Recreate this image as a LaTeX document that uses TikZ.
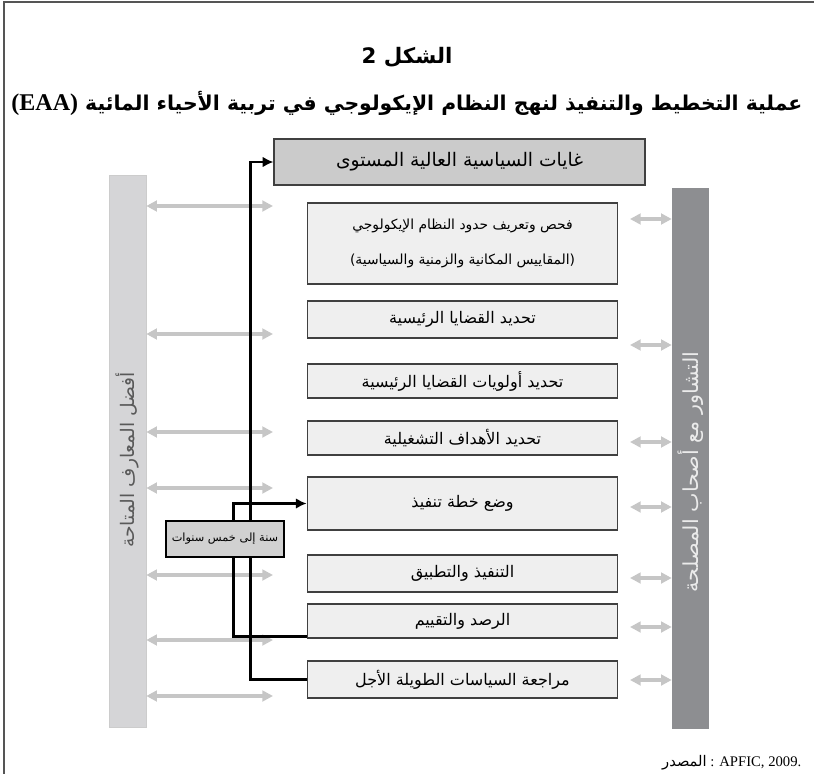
\documentclass[tikz,border=0pt]{standalone}
\usepackage{fontspec}
\setmainfont{Liberation Serif}
\newfontfamily\arabicfont[Script=Arabic]{DejaVu Sans}
\TeXXeTstate=1
\usetikzlibrary{arrows.meta}

\definecolor{stagefill}{HTML}{EFEFEF}
\definecolor{goalfill}{HTML}{CBCBCB}
\definecolor{knowfill}{HTML}{D5D5D7}
\definecolor{consultfill}{HTML}{8D8E91}
\definecolor{arrowgray}{HTML}{C6C6C6}
\definecolor{framegray}{HTML}{555555}

\newcommand{\rtltext}[1]{\beginR #1\endR}

\tikzset{
  stage/.style={draw=black!75, fill=stagefill, line width=0.9pt, inner sep=0pt,
    minimum width=233pt, font=\arabicfont\fontsize{12}{14}\selectfont},
  sidebar/.style={inner sep=0pt, minimum width=27.75pt},
  knowarrow/.style={arrowgray, line width=3pt,
    {Triangle[length=8pt,width=8pt]}-{Triangle[length=8pt,width=8pt]}},
  loopline/.style={black, line width=2.2pt, -{Latex[length=8pt,width=8pt]}},
}

\begin{document}
\begin{tikzpicture}[x=0.75pt, y=-0.75pt]
  \useasboundingbox (0,0) rectangle (814,774);
  \draw[framegray, line width=1.5pt] (3.5,774) -- (3.5,2.5) -- (814,2.5);

  % title
  \node (fig) at (407,57) {\arabicfont\bfseries\fontsize{16}{19}\selectfont \rtltext{الشكل 2}};
  \node (title) at (407,103) {\arabicfont\bfseries\fontsize{15.3}{18}\selectfont
    \rtltext{عملية التخطيط والتنفيذ لنهج النظام الإيكولوجي في تربية الأحياء المائية \beginL{\rmfamily\fontsize{18}{20}\selectfont(EAA)}\endL}};

  % side bars
  \node[sidebar, fill=knowfill, draw=black!20, minimum height=414pt] (know) at (127.5,451) {};
  \node[sidebar, fill=consultfill, minimum height=405.75pt] (consult) at (690.5,458.5) {};
  \node[rotate=90, text=black!65, font=\arabicfont\fontsize{14}{16}\selectfont] (knowtext) at (127,460)
    {\rtltext{أفضل المعارف المتاحة}};
  \node[rotate=90, text=white!92!black, font=\arabicfont\fontsize{15.5}{17}\selectfont] (consulttext) at (691,472)
    {\rtltext{التشاور مع أصحاب المصلحة}};

  % stages
  \node[stage, fill=goalfill, minimum width=278.25pt, minimum height=34.5pt,
    font=\arabicfont\fontsize{14}{16}\selectfont] (goals) at (459.5,162)
    {\rtltext{غايات السياسية العالية المستوى}};
  \node[stage, minimum height=60.75pt, align=center, font=\arabicfont\fontsize{10.4}{12}\selectfont] (scope) at (462.5,243.5)
    {\rtltext{فحص وتعريف حدود النظام الإيكولوجي}\\[14pt]\rtltext{(المقاييس المكانية والزمنية والسياسية)}};
  \node[stage, minimum height=27.75pt] (issues) at (462.5,319.5) {\rtltext{تحديد القضايا الرئيسية}};
  \node[stage, minimum height=25.5pt] (priority) at (462.5,381) {\rtltext{تحديد أولويات القضايا الرئيسية}};
  \node[stage, minimum height=25.5pt] (objectives) at (462.5,438) {\rtltext{تحديد الأهداف التشغيلية}};
  \node[stage, minimum height=39.75pt] (plan) at (462.5,503.5) {\rtltext{وضع خطة تنفيذ}};
  \node[stage, minimum height=27.75pt] (implement) at (462.5,573.5) {\rtltext{التنفيذ والتطبيق}};
  \node[stage, minimum height=25.5pt] (monitor) at (462.5,621) {\rtltext{الرصد والتقييم}};
  \node[stage, minimum height=27.75pt] (review) at (462.5,679.5) {\rtltext{مراجعة السياسات الطويلة الأجل}};

  % two-way links to the bars
  \foreach \y in {206,334,432,488,575,640,696}
    \draw[knowarrow] (know.east |- 0,\y) -- (273,\y);
  \foreach \y in {219,345,442,507,578,627,680}
    \draw[knowarrow] (630,\y) -- (consult.west |- 0,\y);

  % feedback loops
  \draw[loopline] (review.west) -- ++(-56,0) |- (goals.west);
  \draw[loopline] ([yshift=1.5pt]monitor.south west) -- ++(-73,0) |- (plan.west);
  \node[draw=black, line width=2.2pt, fill=black!18, inner sep=0pt, minimum width=88.5pt,
    minimum height=27pt, font=\arabicfont\fontsize{8.5}{10}\selectfont] (cycle) at (225,539)
    {\rtltext{سنة إلى خمس سنوات}};

  % source
  \node[anchor=east, font=\fontsize{11}{13}\selectfont] (source) at (806,763)
    {{\arabicfont المصدر} : APFIC, 2009.};
\end{tikzpicture}
\end{document}
